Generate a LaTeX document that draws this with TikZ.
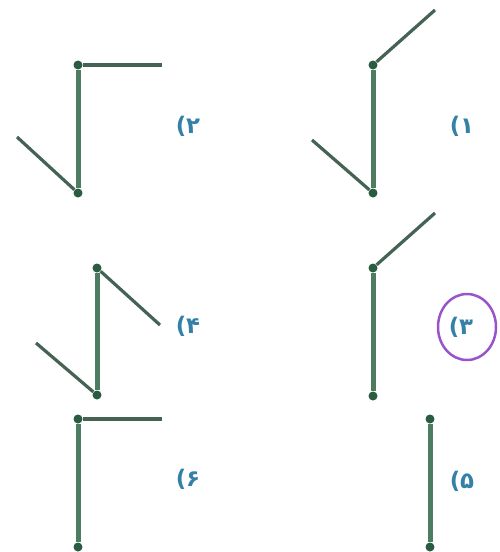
\documentclass[tikz,border=0pt]{standalone}
\usepackage{fontspec}
\newfontfamily\farsifont{DejaVu Sans}
\newlength{\du}
\setlength{\du}{0.02cm}
\definecolor{stemcolor}{rgb}{0.300000, 0.490000, 0.380000}
\definecolor{twigcolor}{rgb}{0.270000, 0.390000, 0.330000}
\definecolor{jointcolor}{rgb}{0.160000, 0.360000, 0.250000}
\definecolor{labelcolor}{rgb}{0.200000, 0.500000, 0.660000}
\definecolor{markcolor}{rgb}{0.600000, 0.330000, 0.800000}
\tikzset{
  stem/.style={draw=stemcolor, line width=5\du},
  twig/.style={draw=twigcolor, line width=3.2\du},
  joint/.style={circle, fill=jointcolor, inner sep=0pt, minimum size=9\du},
  optlabel/.style={text=labelcolor, font=\farsifont\bfseries\fontsize{13}{13}\selectfont},
}

\begin{document}
\begin{tikzpicture}
\pgftransformxscale{1.000000}
\pgftransformyscale{-1.000000}
\useasboundingbox (0\du,0\du) rectangle (500\du,552\du);
% option 1
\node[joint] (j1a) at (373\du,65\du){};
\node[joint] (j1b) at (373\du,193\du){};
\coordinate (e1a) at (435\du,10\du);
\coordinate (e1b) at (312\du,140\du);
\draw[stem] (j1a)--(j1b);
\draw[twig] (j1a)--(e1a);
\draw[twig] (j1b)--(e1b);
\node[optlabel] (l1) at (462\du,126\du){(۱};
% option 2
\node[joint] (j2a) at (78\du,65\du){};
\node[joint] (j2b) at (78\du,193\du){};
\coordinate (e2a) at (162\du,65\du);
\coordinate (e2b) at (17\du,137\du);
\draw[stem] (j2a)--(j2b);
\draw[twig] (j2a)--(e2a);
\draw[twig] (j2b)--(e2b);
\node[optlabel] (l2) at (188\du,126\du){(۲};
% option 3
\node[joint] (j3a) at (373\du,268\du){};
\node[joint] (j3b) at (373\du,396\du){};
\coordinate (e3a) at (435\du,213\du);
\draw[stem] (j3a)--(j3b);
\draw[twig] (j3a)--(e3a);
\node[optlabel] (l3) at (461\du,327\du){(۳};
\draw[markcolor, line width=2.5\du] ([xshift=6\du]l3.center) ellipse [x radius=29\du, y radius=33\du];
% option 4
\node[joint] (j4a) at (97\du,268\du){};
\node[joint] (j4b) at (97\du,395\du){};
\coordinate (e4a) at (160\du,325\du);
\coordinate (e4b) at (36\du,343\du);
\draw[stem] (j4a)--(j4b);
\draw[twig] (j4a)--(e4a);
\draw[twig] (j4b)--(e4b);
\node[optlabel] (l4) at (188\du,326\du){(۴};
% option 6
\node[joint] (j6a) at (78\du,419\du){};
\node[joint] (j6b) at (78\du,547\du){};
\coordinate (e6a) at (162\du,419\du);
\draw[stem] (j6a)--(j6b);
\draw[twig] (j6a)--(e6a);
\node[optlabel] (l6) at (188\du,479\du){(۶};
% option 5
\node[joint] (j5a) at (430\du,419\du){};
\node[joint] (j5b) at (430\du,547\du){};
\draw[stem] (j5a)--(j5b);
\node[optlabel] (l5) at (462\du,481\du){(۵};
\end{tikzpicture}
\end{document}
